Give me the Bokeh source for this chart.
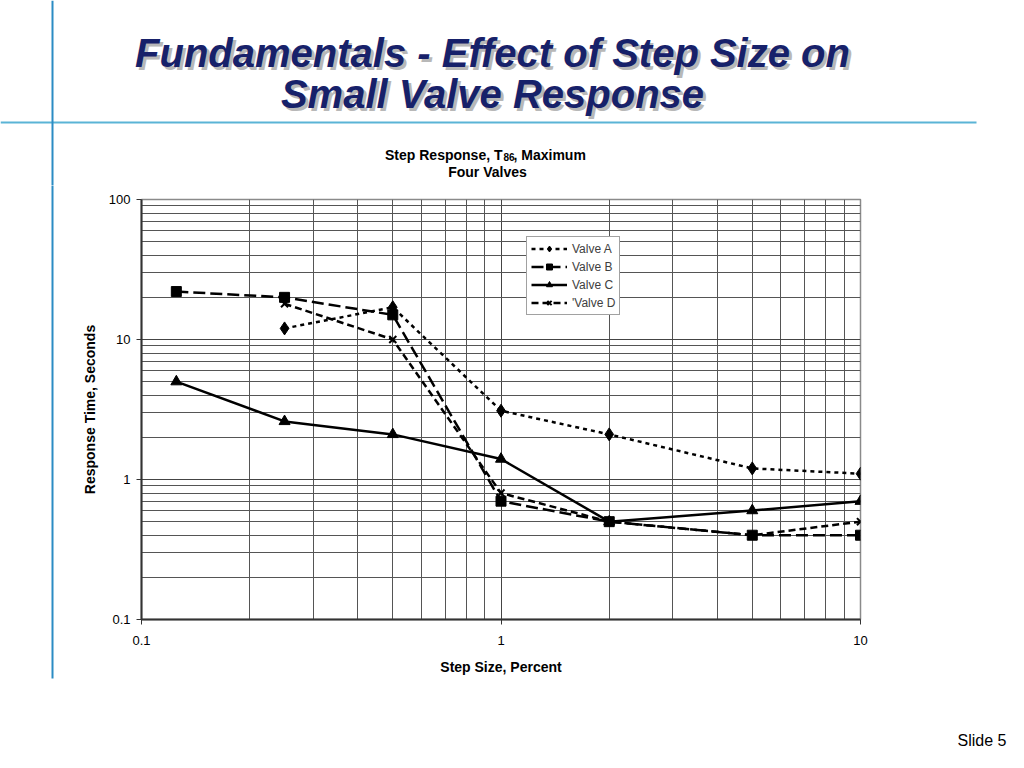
from bokeh.plotting import figure
from bokeh.layouts import column, row
from bokeh.models import (Legend, LegendItem, FixedTicker, CustomJSTickFormatter, Range1d)
from bokeh.core.properties import value
from bokeh.embed import file_html
from bokeh.resources import INLINE

# ---- data ----
step_a = [0.25, 0.5, 1, 2, 5, 10]
valve_a = [12, 17, 3.1, 2.1, 1.2, 1.1]
step_b = [0.125, 0.25, 0.5, 1, 2, 5, 10]
valve_b = [22, 20, 15, 0.7, 0.5, 0.4, 0.4]
step_c = [0.125, 0.25, 0.5, 1, 2, 5, 10]
valve_c = [5, 2.6, 2.1, 1.4, 0.5, 0.6, 0.7]
step_d = [0.25, 0.5, 1, 2, 5, 10]
valve_d = [18, 10, 0.8, 0.5, 0.4, 0.5]

series_names = ["Valve A", "Valve B", "Valve C", "'Valve D"]

x_major = [0.1, 1, 10]
x_minor = [0.2, 0.3, 0.4, 0.5, 0.6, 0.7, 0.8, 0.9, 2, 3, 4, 5, 6, 7, 8, 9]
y_major = [0.1, 1, 10, 100]
y_minor = [0.2, 0.3, 0.4, 0.5, 0.6, 0.7, 0.8, 0.9, 2, 3, 4, 5, 6, 7, 8, 9,
           20, 30, 40, 50, 60, 70, 80, 90]

slide_title = ["Fundamentals - Effect of Step Size on", "Small Valve Response"]
chart_title = ["Step Response, T", "86", ", Maximum", "Four Valves"]
slide_no = "Slide 5"

FONT = "Liberation Sans"
W = 1008
TOP_H = 185
MID_H = 515
BOT_H = 52
LEFT_W = 70


def blank(width, height, y0, y1):
    f = figure(width=width, height=height,
               x_range=Range1d(0, width), y_range=Range1d(y1, y0),
               x_axis_location=None, y_axis_location=None,
               output_backend="svg", toolbar_location=None,
               min_border=0, min_border_left=0, min_border_right=0,
               min_border_top=0, min_border_bottom=0)
    f.outline_line_color = None
    f.grid.visible = False
    f.background_fill_color = "white"
    f.border_fill_color = "white"
    return f


# ---- top strip: slide title, rule lines, chart title ----
top = blank(W, TOP_H, 0, TOP_H)
top.segment(x0=[0], y0=[122], x1=[976], y1=[122], line_color="#5ab4d6", line_width=2)
top.segment(x0=[52], y0=[0], x1=[52], y1=[TOP_H + 3], line_color="#2b8cc4", line_width=2)
top.text(x=[495, 495], y=[55, 96], text=slide_title, text_font=value(FONT),
         text_font_size="40px", text_font_style="bold italic", text_color="#b8b8b8",
         text_align="center", text_baseline="alphabetic")
top.text(x=[492, 492], y=[52, 93], text=slide_title, text_font=value(FONT),
         text_font_size="40px", text_font_style="bold italic", text_color="#17216a",
         text_align="center", text_baseline="alphabetic")
top.text(x=[502], y=[154], text=[chart_title[0]], text_font=value(FONT),
         text_font_size="14px", text_font_style="bold", text_color="black",
         text_align="right", text_baseline="alphabetic")
top.text(x=[503], y=[156], text=[chart_title[1]], text_font=value(FONT),
         text_font_size="10px", text_font_style="bold", text_color="black",
         text_align="left", text_baseline="alphabetic")
top.text(x=[513], y=[154], text=[chart_title[2]], text_font=value(FONT),
         text_font_size="14px", text_font_style="bold", text_color="black",
         text_align="left", text_baseline="alphabetic")
top.text(x=[487], y=[171], text=[chart_title[3]], text_font=value(FONT),
         text_font_size="14px", text_font_style="bold", text_color="black",
         text_align="center", text_baseline="alphabetic")

# ---- left strip: vertical rule ----
left = blank(LEFT_W, MID_H, TOP_H, TOP_H + MID_H)
left.segment(x0=[52], y0=[TOP_H - 3], x1=[52], y1=[678], line_color="#2b8cc4", line_width=2)

# ---- chart ----
p = figure(width=W - LEFT_W, height=MID_H, x_axis_type="log", y_axis_type="log",
           x_range=Range1d(0.1, 10), y_range=Range1d(0.1, 100),
           output_backend="svg", toolbar_location=None,
           min_border_left=71, min_border_right=148,
           min_border_top=14, min_border_bottom=81)
p.background_fill_color = "white"
p.border_fill_color = "white"
p.outline_line_color = "#8a8a8a"
p.outline_line_width = 1.5

fmt = "return String(tick)"
for ax, maj, mnr in ((p.xaxis[0], x_major, x_minor), (p.yaxis[0], y_major, y_minor)):
    ax.ticker = FixedTicker(ticks=maj, minor_ticks=mnr)
    ax.formatter = CustomJSTickFormatter(code=fmt)
    ax.axis_line_color = "#333333"
    ax.axis_line_width = 2
    ax.major_tick_line_color = "#333333"
    ax.major_tick_out = 5
    ax.major_tick_in = 0
    ax.minor_tick_out = 0
    ax.minor_tick_in = 0
    ax.major_label_text_font = FONT
    ax.major_label_text_font_size = "13px"
    ax.major_label_text_color = "black"
    ax.axis_label_text_font = FONT
    ax.axis_label_text_font_size = "14px"
    ax.axis_label_text_font_style = "bold"
    ax.axis_label_text_color = "black"

p.xaxis.axis_label = "Step Size, Percent"
p.yaxis.axis_label = "Response Time, Seconds"
p.xaxis.major_label_standoff = 11
p.yaxis.major_label_standoff = 6
p.xaxis.axis_label_standoff = 11
p.yaxis.axis_label_standoff = 8

p.xgrid.ticker = FixedTicker(ticks=x_major, minor_ticks=x_minor)
p.ygrid.ticker = FixedTicker(ticks=y_major, minor_ticks=y_minor)
for g in (p.xgrid[0], p.ygrid[0]):
    g.grid_line_color = "#444444"
    g.grid_line_width = 1
    g.minor_grid_line_color = "#555555"
    g.minor_grid_line_width = 1

LW = 2.5
la = p.line(step_a, valve_a, line_color="black", line_width=LW, line_dash="4 4")
sa = p.scatter(step_a, valve_a, marker="diamond", size=13, color="black")
lb = p.line(step_b, valve_b, line_color="black", line_width=LW, line_dash="12 5")
sb = p.scatter(step_b, valve_b, marker="square", size=10, color="black")
lc = p.line(step_c, valve_c, line_color="black", line_width=LW)
sc = p.scatter(step_c, valve_c, marker="triangle", size=11, color="black")
ld = p.line(step_d, valve_d, line_color="black", line_width=LW, line_dash="7 4")
sd = p.scatter(step_d, valve_d, marker="x", size=10, line_color="black", line_width=2)

legend = Legend(items=[
    LegendItem(label=series_names[0], renderers=[la, sa]),
    LegendItem(label=series_names[1], renderers=[lb, sb]),
    LegendItem(label=series_names[2], renderers=[lc, sc]),
    LegendItem(label=series_names[3], renderers=[ld, sd]),
], location=(385, 304))
legend.border_line_color = "#444444"
legend.border_line_width = 1
legend.background_fill_color = "white"
legend.background_fill_alpha = 1
legend.label_text_font = FONT
legend.label_text_font_size = "12px"
legend.label_text_color = "#404040"
legend.glyph_width = 36
legend.glyph_height = 15
legend.label_height = 15
legend.spacing = 3
legend.padding = 4
legend.margin = 0
legend.label_standoff = 5
p.add_layout(legend)

# ---- bottom strip: slide number ----
bottom = blank(W, BOT_H, TOP_H + MID_H, TOP_H + MID_H + BOT_H)
bottom.text(x=[1006], y=[740], text=[slide_no], text_font=value(FONT),
            text_font_size="16px", text_color="black",
            text_align="right", text_baseline="alphabetic")

layout = column(top, row(column(left, spacing=0), p, spacing=0), bottom, spacing=0)
open("out.html", "w").write(file_html(layout, INLINE))
